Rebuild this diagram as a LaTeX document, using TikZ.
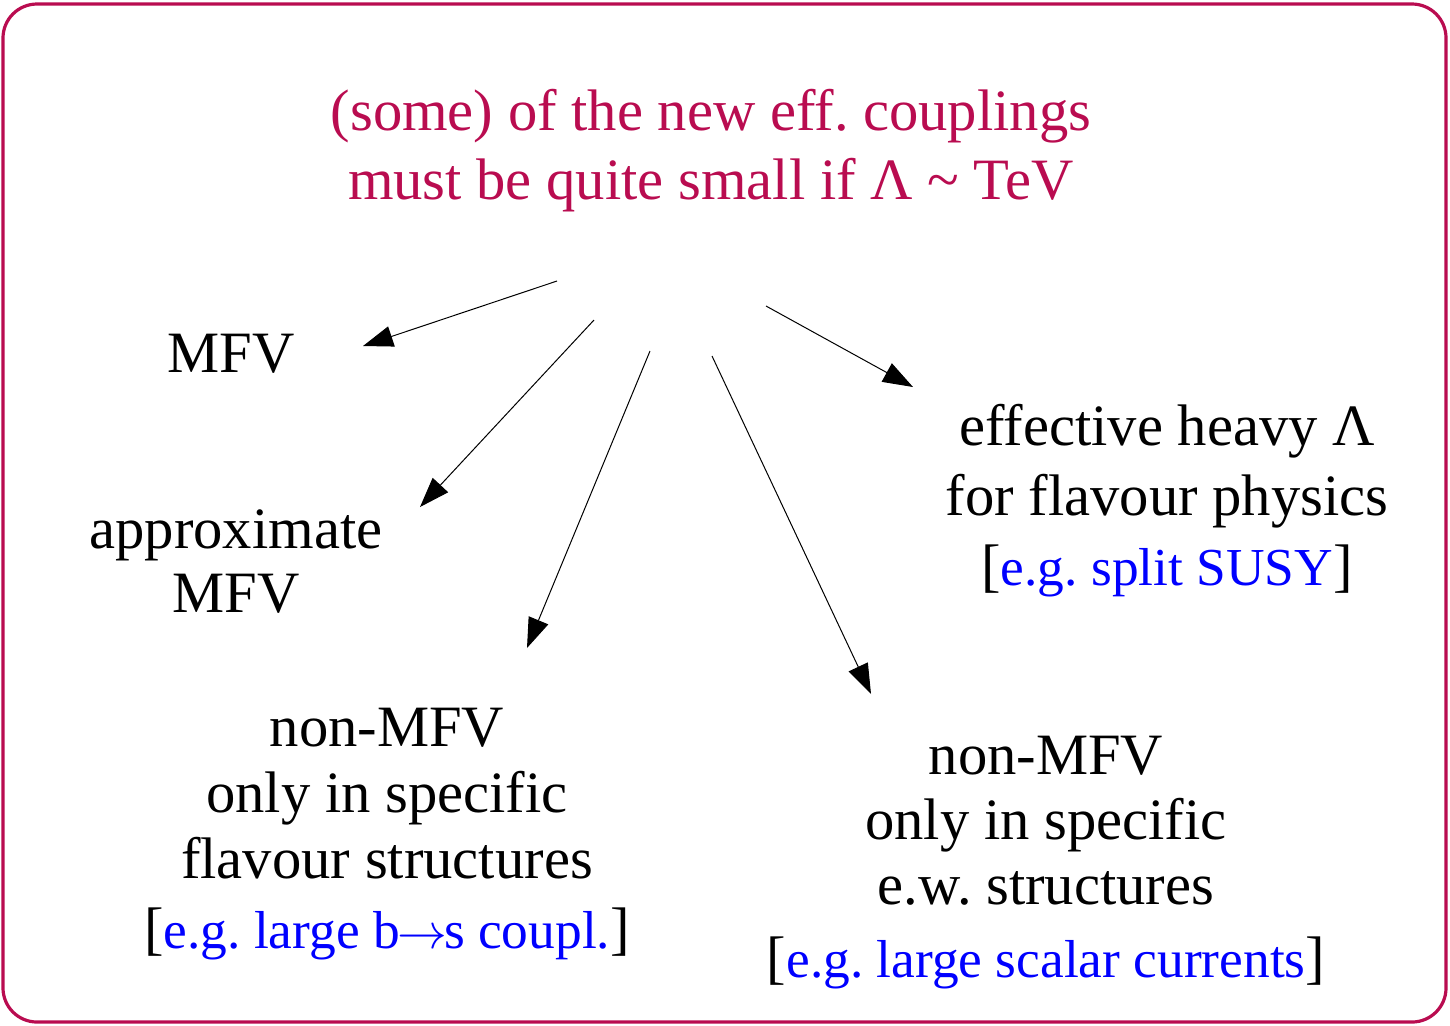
\documentclass[tikz,border=0pt]{standalone}
\usepackage{fontspec}
\setmainfont{Liberation Serif}
\usetikzlibrary{arrows.meta}
\definecolor{frame}{RGB}{185,12,80}
\definecolor{eg}{RGB}{0,0,255}
\tikzset{
  txt/.style={font=\fontsize{29.3}{33}\selectfont, align=center, inner sep=0pt, anchor=base},
  head/.style={txt, text=frame, font=\fontsize{29.3}{34.5}\selectfont},
  conn/.style={line width=0.5pt, -{Triangle[length=15pt, width=10.5pt]}},
}
\newcommand{\egtext}[1]{{\color{eg}\fontsize{26.7}{33}\selectfont #1}}
\newcommand{\shortarr}{$\mkern-1mu\rightarrow\mkern-1mu$}
\begin{document}
\begin{tikzpicture}[x=0.5pt, y=-0.5pt]
\useasboundingbox (0,0) rectangle (1450,1025);
\draw[frame, line width=1.6pt, rounded corners=17pt] (3,4) rectangle (1446,1022);

\node[head] (top) at (711,199) {(some) of the new eff.\ couplings\\must be quite small if \char"039B\ \char`\~\ TeV};

\node[txt] (mfv) at (231,372) {MFV};
\node[txt] (amfv) at (236,612) {approximate\\[-1pt]MFV};
\node[txt] (nmfv1) at (387,948) {non-MFV\\only in specific\\flavour structures\\[2pt][\egtext{e.g.\ large b\shortarr s coupl.}]};
\node[txt] (nmfv2) at (1046,977) {non-MFV\\[-0.5pt]only in specific\\[-0.5pt]e.w.\ structures\\[3.5pt][\egtext{e.g.\ large scalar currents}]};
\node[txt] (heavy) at (1167,585) {effective heavy \char"039B\\[2pt]for flavour physics\\[2pt][\egtext{e.g.\ split SUSY}]};

\coordinate (s1) at (557,281); \coordinate (e1) at (363,346);
\coordinate (s2) at (594,320); \coordinate (e2) at (420,507);
\coordinate (s3) at (650,351); \coordinate (e3) at (527,648);
\coordinate (s4) at (712,356); \coordinate (e4) at (871,694);
\coordinate (s5) at (766,306); \coordinate (e5) at (913,387);
\draw[conn] (s1) -- (e1);
\draw[conn] (s2) -- (e2);
\draw[conn] (s3) -- (e3);
\draw[conn] (s4) -- (e4);
\draw[conn] (s5) -- (e5);
\end{tikzpicture}
\end{document}
